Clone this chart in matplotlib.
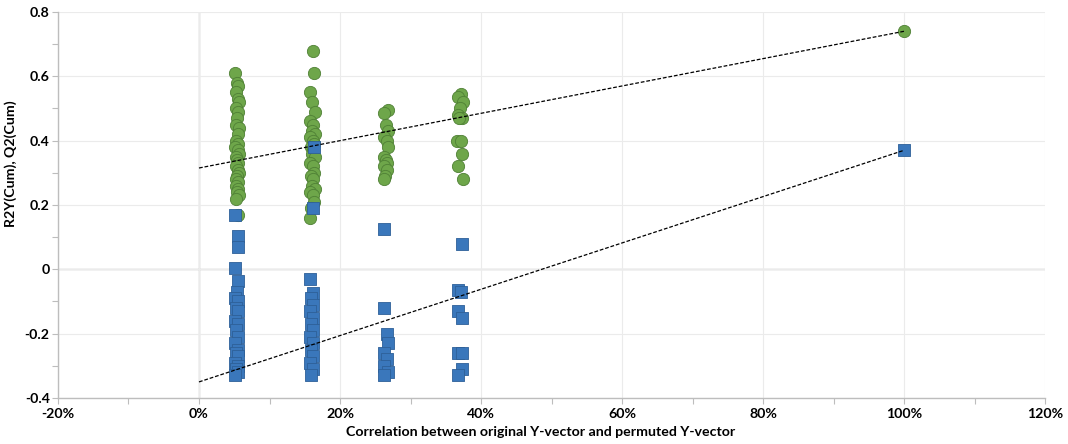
import matplotlib.pyplot as plt
from matplotlib.ticker import PercentFormatter, MultipleLocator

# permutation test results (x = correlation between original and permuted Y)
r2_x = [0.051, 0.054, 0.056, 0.052, 0.055, 0.057, 0.053, 0.056, 0.054, 0.052, 0.057, 0.055,
        0.053, 0.056, 0.051, 0.055, 0.057, 0.053, 0.054, 0.056, 0.052, 0.055, 0.057, 0.054,
        0.053, 0.056, 0.052, 0.055, 0.054, 0.057, 0.053, 0.056,
        0.162, 0.163, 0.158, 0.160, 0.165, 0.158, 0.162, 0.160, 0.164, 0.158, 0.161, 0.163,
        0.159, 0.162, 0.160, 0.164, 0.158, 0.161, 0.163, 0.159, 0.162, 0.160, 0.164, 0.158,
        0.161, 0.163, 0.159, 0.158,
        0.268, 0.263, 0.265, 0.268, 0.262, 0.266, 0.268, 0.263, 0.265, 0.267, 0.262, 0.266,
        0.264, 0.263,
        0.372, 0.368, 0.374, 0.370, 0.367, 0.373, 0.369, 0.366, 0.372, 0.373, 0.368, 0.374,
        1.0]
r2_y = [0.61, 0.58, 0.57, 0.55, 0.53, 0.52, 0.50, 0.49, 0.47, 0.45, 0.44, 0.42,
        0.40, 0.39, 0.38, 0.37, 0.36, 0.35, 0.34, 0.33, 0.32, 0.31, 0.30, 0.29,
        0.28, 0.27, 0.26, 0.25, 0.24, 0.23, 0.22, 0.17,
        0.68, 0.61, 0.55, 0.52, 0.49, 0.46, 0.45, 0.43, 0.42, 0.41, 0.40, 0.39,
        0.38, 0.37, 0.36, 0.35, 0.33, 0.32, 0.30, 0.29, 0.28, 0.26, 0.25, 0.24,
        0.23, 0.21, 0.19, 0.16,
        0.495, 0.485, 0.45, 0.43, 0.41, 0.40, 0.38, 0.35, 0.34, 0.33, 0.32, 0.31,
        0.29, 0.28,
        0.545, 0.535, 0.52, 0.50, 0.48, 0.47, 0.47, 0.40, 0.40, 0.36, 0.32, 0.28,
        0.74]

q2_x = [0.051, 0.056, 0.056, 0.051, 0.056, 0.054, 0.051, 0.056, 0.052, 0.055, 0.051, 0.056,
        0.052, 0.055, 0.051, 0.056, 0.052, 0.055, 0.051, 0.056, 0.052, 0.055, 0.051,
        0.163, 0.161, 0.158, 0.161, 0.159, 0.162, 0.158, 0.161, 0.159, 0.162, 0.158, 0.161,
        0.159, 0.162, 0.158, 0.161, 0.159,
        0.263, 0.263, 0.266, 0.268, 0.263, 0.267, 0.263, 0.268, 0.263,
        0.373, 0.368, 0.371, 0.368, 0.373, 0.368, 0.373, 0.373, 0.368,
        1.0]
q2_y = [0.168, 0.105, 0.07, 0.005, -0.035, -0.07, -0.09, -0.10, -0.12, -0.13, -0.16, -0.17,
        -0.19, -0.21, -0.23, -0.25, -0.26, -0.27, -0.29, -0.30, -0.31, -0.32, -0.33,
        0.38, 0.19, -0.03, -0.075, -0.09, -0.11, -0.13, -0.15, -0.17, -0.19, -0.21, -0.23,
        -0.25, -0.27, -0.29, -0.31, -0.33,
        0.125, -0.12, -0.20, -0.23, -0.26, -0.28, -0.30, -0.32, -0.33,
        0.08, -0.065, -0.07, -0.13, -0.15, -0.26, -0.26, -0.31, -0.33,
        0.37]

# intercepts of the regression lines at x = 0
r2_intercept = 0.315
q2_intercept = -0.35

plt.rcParams['font.family'] = ['Lato', 'DejaVu Sans']
plt.rcParams['axes.unicode_minus'] = False

fig = plt.figure(figsize=(10.68, 4.44), dpi=100)
ax = fig.add_axes([0.0543, 0.1036, 0.9242, 0.8694])

ax.set_xlim(-0.2, 1.2)
ax.set_ylim(-0.4, 0.8)

ax.grid(True, color='#ebebeb', linewidth=0.8, zorder=0)
ax.axhline(0, color='#bdbdbd', linewidth=1, zorder=1)
ax.axvline(0, color='#bdbdbd', linewidth=1, zorder=1)

ax.plot([0, 1], [r2_intercept, r2_y[-1]], color='black', linestyle=(0, (3, 1.5)),
        linewidth=0.9, zorder=4)
ax.plot([0, 1], [q2_intercept, q2_y[-1]], color='black', linestyle=(0, (3, 1.5)),
        linewidth=0.9, zorder=4)

ax.scatter(r2_x, r2_y, s=78, marker='o', color='#6ea64a', edgecolors='#4f8035',
           linewidths=0.6, zorder=3)
ax.scatter(q2_x, q2_y, s=68, marker='s', color='#3a77bb', edgecolors='#2d6098',
           linewidths=0.6, zorder=3)

ax.xaxis.set_major_locator(MultipleLocator(0.2))
ax.xaxis.set_minor_locator(MultipleLocator(0.1))
ax.yaxis.set_minor_locator(MultipleLocator(0.1))
ax.xaxis.set_major_formatter(PercentFormatter(xmax=1, decimals=0))
ax.set_yticks([-0.4, -0.2, 0, 0.2, 0.4, 0.6, 0.8])
ax.set_yticklabels(['-0.4', '-0.2', '0', '0.2', '0.4', '0.6', '0.8'])

for s in ['top', 'right']:
    ax.spines[s].set_visible(False)
for s in ['left', 'bottom']:
    ax.spines[s].set_color('#bdbdbd')
    ax.spines[s].set_linewidth(1)

ax.tick_params(which='both', color='#bdbdbd', direction='out', length=4, width=0.8)
ax.tick_params(axis='x', pad=3, labelsize=10.2)
ax.tick_params(axis='y', pad=2, labelsize=10.2)
for lab in ax.get_xticklabels() + ax.get_yticklabels():
    lab.set_fontweight('bold')

ax.set_xlabel('Correlation between original Y-vector and permuted Y-vector',
              fontsize=10.2, fontweight='bold')
ax.xaxis.set_label_coords(0.489, -0.073)
ax.set_ylabel('R2Y(Cum), Q2(Cum)', fontsize=10.2, fontweight='bold')
ax.yaxis.set_label_coords(-0.0415, 0.606)

fig.savefig('out.png', dpi=100)
